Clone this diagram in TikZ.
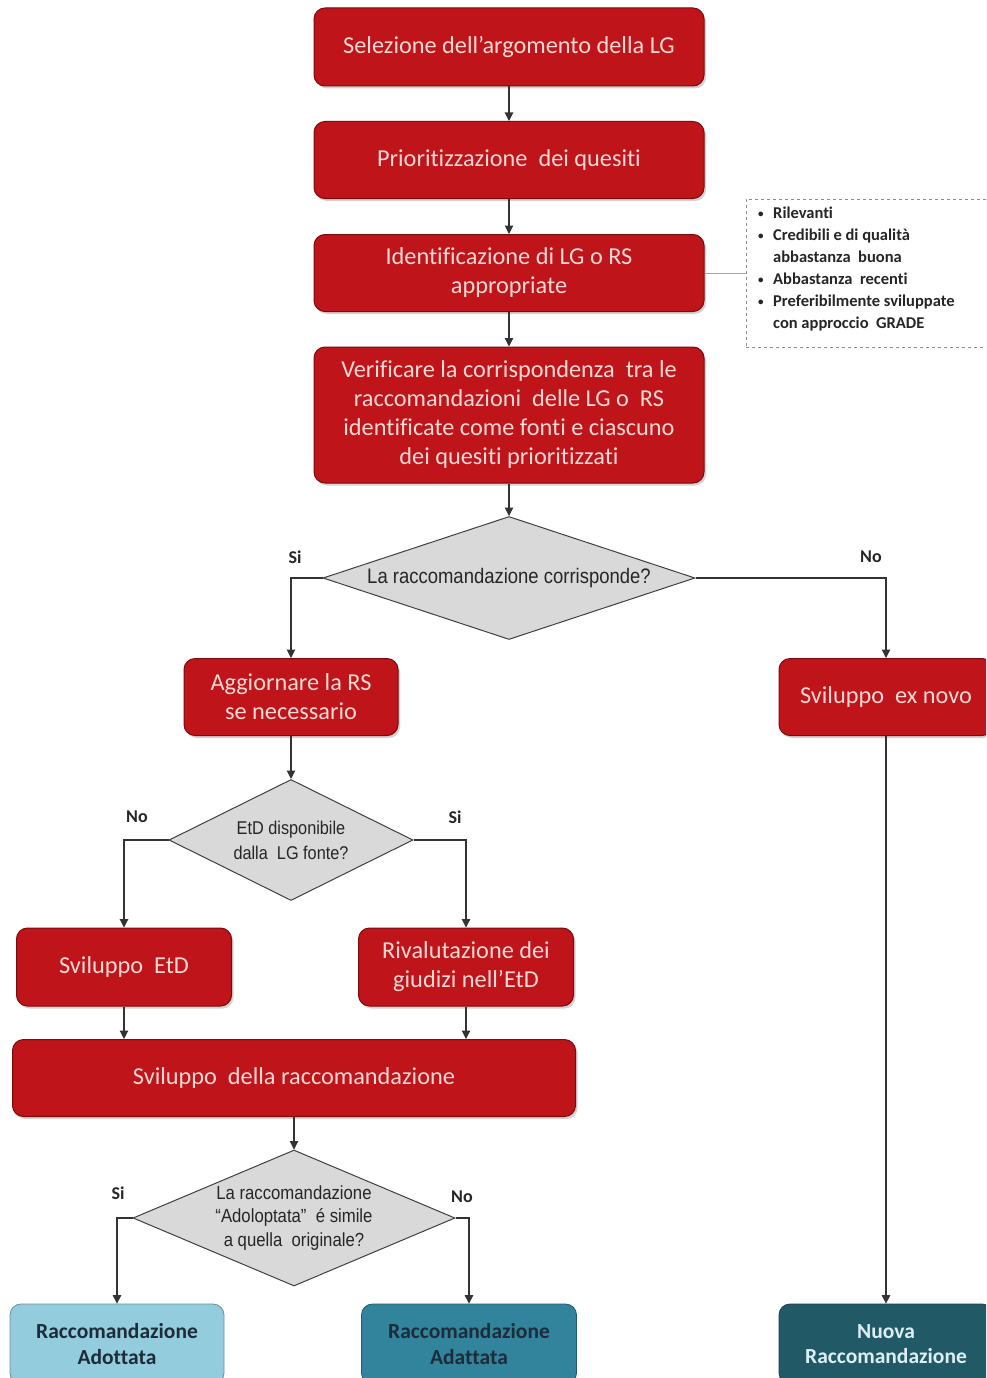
\documentclass[tikz,border=0pt]{standalone}
\usepackage{fontspec}
\setmainfont[RawFeature={-liga;-clig;-calt;-dlig}]{Carlito}
\newfontfamily\diafont[FakeStretch=0.88]{Liberation Sans}
\usetikzlibrary{shapes.geometric,arrows.meta,shadows}
\definecolor{redfill}{HTML}{BE141A}
\definecolor{redline}{HTML}{7A0B0B}
\definecolor{redtext}{HTML}{FAD9D4}
\definecolor{diafill}{HTML}{D9D9D9}
\definecolor{dialine}{HTML}{404040}
\definecolor{lightblue}{HTML}{93CDDD}
\definecolor{midteal}{HTML}{31849B}
\definecolor{darkteal}{HTML}{215967}
\definecolor{darktext}{HTML}{1D2B3A}
\definecolor{palet}{HTML}{DDEFF4}
\newcommand\bul{\makebox[15pt][l]{\raisebox{1.5pt}{\fontsize{11}{11}\selectfont\textbullet}}}
\newcommand\ind{\hspace*{15pt}}
\tikzset{
  redbox/.style={draw=redline, line width=1pt, fill=redfill, rounded corners=11pt,
    text=redtext, align=center, inner sep=0pt, font=\fontsize{24.3}{29}\selectfont,
    drop shadow={opacity=0.35, shadow xshift=2pt, shadow yshift=-2.5pt}},
  endbox/.style={draw=#1!70!black, line width=0.8pt, fill=#1, rounded corners=11pt,
    align=center, inner sep=0pt, font=\fontsize{21.5}{25.5}\selectfont\bfseries},
  dia/.style={diamond, draw=dialine, line width=1pt, fill=diafill, inner sep=0pt},
  diatext/.style={align=center, inner sep=0pt, text=black!85},
  lbl/.style={font=\fontsize{18}{20}\selectfont\bfseries, text=black!85, inner sep=0pt},
  conn/.style={draw=black!80, line width=1.1pt, -{Triangle[length=8.5pt,width=8.5pt]}},
}
\begin{document}
\begin{tikzpicture}[x=1pt,y=-1pt]
\useasboundingbox (0,0) rectangle (986,1378);
\clip (0,0) rectangle (986,1378);
\fill[white] (0,0) rectangle (986,1378);

% main column
\node[redbox, minimum width=390, minimum height=78] (s1) at (509,47) {Selezione dell’argomento della LG};
\node[redbox, minimum width=390, minimum height=77] (s2) at (509,160) {Prioritizzazione\ \ dei quesiti};
\node[redbox, minimum width=390, minimum height=77] (s3) at (509,273) {Identificazione di LG o RS\\appropriate};
\node[redbox, minimum width=390, minimum height=136] (s4) at (509,415) {Verificare la corrispondenza\ \ tra le\\raccomandazioni\ \ delle LG o\ \ RS\\identificate come fonti e ciascuno\\dei quesiti prioritizzati};

% dashed note
\node[draw=black!45, dashed, line width=0.8pt, minimum width=244, minimum height=148, inner sep=0pt] (note) at (868,273) {};
\node[anchor=north west, align=left, inner sep=0pt, font=\fontsize{16.5}{22}\selectfont\bfseries, text=black!85] (notetext) at (758,207)
 {\bul Rilevanti\\\bul Credibili e di qualità\\\ind abbastanza\ \ buona\\\bul Abbastanza\ \ recenti\\\bul Preferibilmente sviluppate\\\ind con approccio\ \ GRADE};
\draw[black!35, line width=0.8pt] (s3.east) -- (note.west);

% first decision
\node[dia, minimum width=372, minimum height=123] (d1) at (509,578) {};
\node[diatext, font=\diafont\fontsize{21}{24}\selectfont] (d1t) at (d1) {La raccomandazione corrisponde?};
\node[lbl] (si1) at (295,557) {Si};
\node[lbl] (no1) at (871,557) {No};

\node[redbox, minimum width=214, minimum height=77] (agg) at (291,697) {Aggiornare la RS\\se necessario};
\node[redbox, minimum width=214, minimum height=77] (exn) at (886,697) {Sviluppo\ \ ex novo};

% second decision
\node[dia, minimum width=244, minimum height=121] (d2) at (291,840) {};
\node[diatext, font=\diafont\fontsize{18.5}{25}\selectfont] (d2t) at (d2) {EtD disponibile\\dalla\ \ LG fonte?};
\node[lbl] (no2) at (137,817) {No};
\node[lbl] (si2) at (455,817) {Si};

\node[redbox, minimum width=215, minimum height=78] (etd) at (124,967) {Sviluppo\ \ EtD};
\node[redbox, minimum width=215, minimum height=78] (riv) at (466,967) {Rivalutazione dei\\giudizi nell’EtD};
\node[redbox, minimum width=563, minimum height=77] (svr) at (294,1078) {Sviluppo\ \ della raccomandazione};

% third decision
\node[dia, minimum width=322, minimum height=136] (d3) at (294,1218) {};
\node[diatext, font=\diafont\fontsize{19}{23.5}\selectfont] (d3t) at (d3) {La raccomandazione\\“Adoloptata”\ \ é simile\\a quella\ \ originale?};
\node[lbl] (si3) at (118,1193) {Si};
\node[lbl] (no3) at (462,1197) {No};

% outcomes
\node[endbox=lightblue, text=darktext, minimum width=214, minimum height=80] (ado) at (117,1344) {Raccomandazione\\Adottata};
\node[endbox=midteal, text=darktext, minimum width=215, minimum height=80] (ada) at (469,1344) {Raccomandazione\\Adattata};
\node[endbox=darkteal, text=palet, minimum width=214, minimum height=80] (nuo) at (886,1344) {Nuova\\Raccomandazione};

% connectors
\draw[conn] (s1) -- (s2);
\draw[conn] (s2) -- (s3);
\draw[conn] (s3) -- (s4);
\draw[conn] (s4) -- (d1);
\draw[conn] (d1.west) -| (agg.north);
\draw[conn] (d1.east) -| (exn.north);
\draw[conn] (agg) -- (d2);
\draw[conn] (d2.west) -| (etd.north);
\draw[conn] (d2.east) -| (riv.north);
\draw[conn] (etd) -- (etd |- svr.north);
\draw[conn] (riv) -- (riv |- svr.north);
\draw[conn] (svr) -- (d3);
\draw[conn] (d3.west) -| (ado.north);
\draw[conn] (d3.east) -| (ada.north);
\draw[conn] (exn) -- (nuo);
\end{tikzpicture}
\end{document}
